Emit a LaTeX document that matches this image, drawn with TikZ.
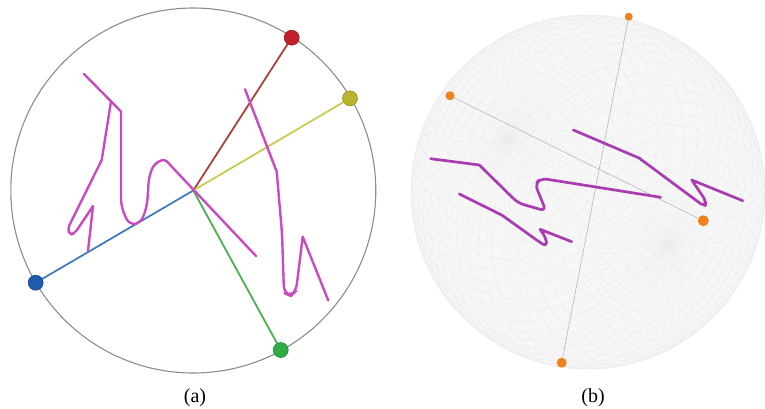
\documentclass[tikz,border=0pt]{standalone}
\usepackage{fontspec}
\setmainfont{Liberation Serif}
\definecolor{rayred}{HTML}{A8433C}
\definecolor{rayyel}{HTML}{CACA52}
\definecolor{rayblue}{HTML}{3F7DBE}
\definecolor{raygreen}{HTML}{4DB04F}
\definecolor{dotred}{HTML}{C22028}
\definecolor{dotyel}{HTML}{B9B42E}
\definecolor{dotblue}{HTML}{1F5CAB}
\definecolor{dotgreen}{HTML}{2FAB48}
\definecolor{magL}{HTML}{C84CBF}
\definecolor{magR}{HTML}{A83CB0}
\definecolor{orangedot}{HTML}{F0801E}
\begin{document}
\begin{tikzpicture}[x=1pt,y=-1pt,
  bigdot/.style={circle,inner sep=0pt,minimum size=15pt,draw=#1!80!black,line width=0.6pt,fill=#1},
  odot/.style={circle,inner sep=0pt,minimum size=#1,fill=orangedot},
  ray/.style={line width=1.8pt},
  curveL/.style={magL,line width=2.4pt,line cap=round,line join=round},
  curveR/.style={magR,line width=2.7pt,line cap=round,line join=round},
  grid/.style={black!8,line width=0.2pt},
  chord/.style={black!28,line width=0.6pt},
  lab/.style={font=\fontsize{20}{24}\selectfont,inner sep=0pt}]
\useasboundingbox (0,0) rectangle (765,408);
% ---------- panel (a) ----------
\coordinate (c) at (193.3,190.5);
\draw[black!45,line width=1.1pt] (c) circle (182.5);
\coordinate (pr) at (291.7,37.7);
\coordinate (py) at (350,98.3);
\coordinate (pb) at (35.7,282.7);
\coordinate (pg) at (280.7,350);
\draw[ray,rayred] (c) -- (pr);
\draw[ray,rayyel] (c) -- (py);
\draw[ray,rayblue] (c) -- (pb);
\draw[ray,raygreen] (c) -- (pg);
\draw[curveL] (84,74) -- (121,111.5) [rounded corners=7pt] -- (121,206) -- (129,225) -- (141,223) -- (147,206) -- (149,176) -- (155,162) [rounded corners=2pt] -- (165,159.5) [sharp corners] -- (256,256);
\draw[curveL] (111,101.5) -- (101.7,160) [rounded corners=4pt] -- (67.5,229) -- (70,235) -- (75,233) [sharp corners] -- (93,206) -- (88,251);
\draw[curveL] (245,89.3) -- (276.7,171.7) [rounded corners=7pt] -- (282,233) -- (284,293) -- (291,296) -- (296,291) [sharp corners] -- (302.7,236.7) -- (328.3,300.5);
\node[bigdot=dotred] (red) at (pr) {};
\node[bigdot=dotyel] (yel) at (py) {};
\node[bigdot=dotblue] (blue) at (pb) {};
\node[bigdot=dotgreen] (green) at (pg) {};
\node[lab] (la) at (195,397.5) {(a)};
% ---------- panel (b) ----------
\fill[black!3] (588,192) circle (177);
\foreach \lat in {-85,-80,...,85}{
  \draw[grid] plot[domain=0:360,samples=73,smooth]
   ({588+177*(-0.4515*sin(\lat)+cos(\lat)*(-0.6953*cos(\x)+0.5592*sin(\x)))},
    {192+177*(-0.3046*sin(\lat)+cos(\lat)*(-0.4690*cos(\x)-0.8290*sin(\x)))});
}
\foreach \lon in {0,5,...,355}{
  \draw[grid] plot[domain=-90:90,samples=37,smooth]
   ({588+177*(-0.4515*sin(\x)+cos(\x)*(-0.6953*cos(\lon)+0.5592*sin(\lon)))},
    {192+177*(-0.3046*sin(\x)+cos(\x)*(-0.4690*cos(\lon)-0.8290*sin(\lon)))});
}
\draw[black!6,line width=0.8pt] (588,192) circle (177);
\node[odot=8pt] (ot) at (628.7,16.7) {};
\node[odot=10pt] (ob) at (561.7,362.7) {};
\node[odot=9pt] (ol) at (450,95.7) {};
\node[odot=11pt] (orr) at (703.3,220.7) {};
\draw[chord] (ot) -- (ob);
\draw[chord] (ol) -- (orr);
\draw[curveR] (573.3,130) -- (639,158) [rounded corners=5pt] -- (697,201) -- (705,207) -- (706,201) [sharp corners] -- (691.7,180) -- (742.7,200.7);
\draw[curveR] (430.7,158.7) -- (479.3,165) [rounded corners=6pt] -- (518,203) -- (546,211) -- (535,184) -- (541,178.3) [sharp corners] -- (660.7,197.3);
\draw[curveR] (459.3,194) -- (501.7,215) [rounded corners=5pt] -- (538,241) -- (547,247) -- (546,238) [sharp corners] -- (540,229.3) -- (571.7,241.7);
\node[lab] (lb) at (593,397.5) {(b)};
\end{tikzpicture}
\end{document}
